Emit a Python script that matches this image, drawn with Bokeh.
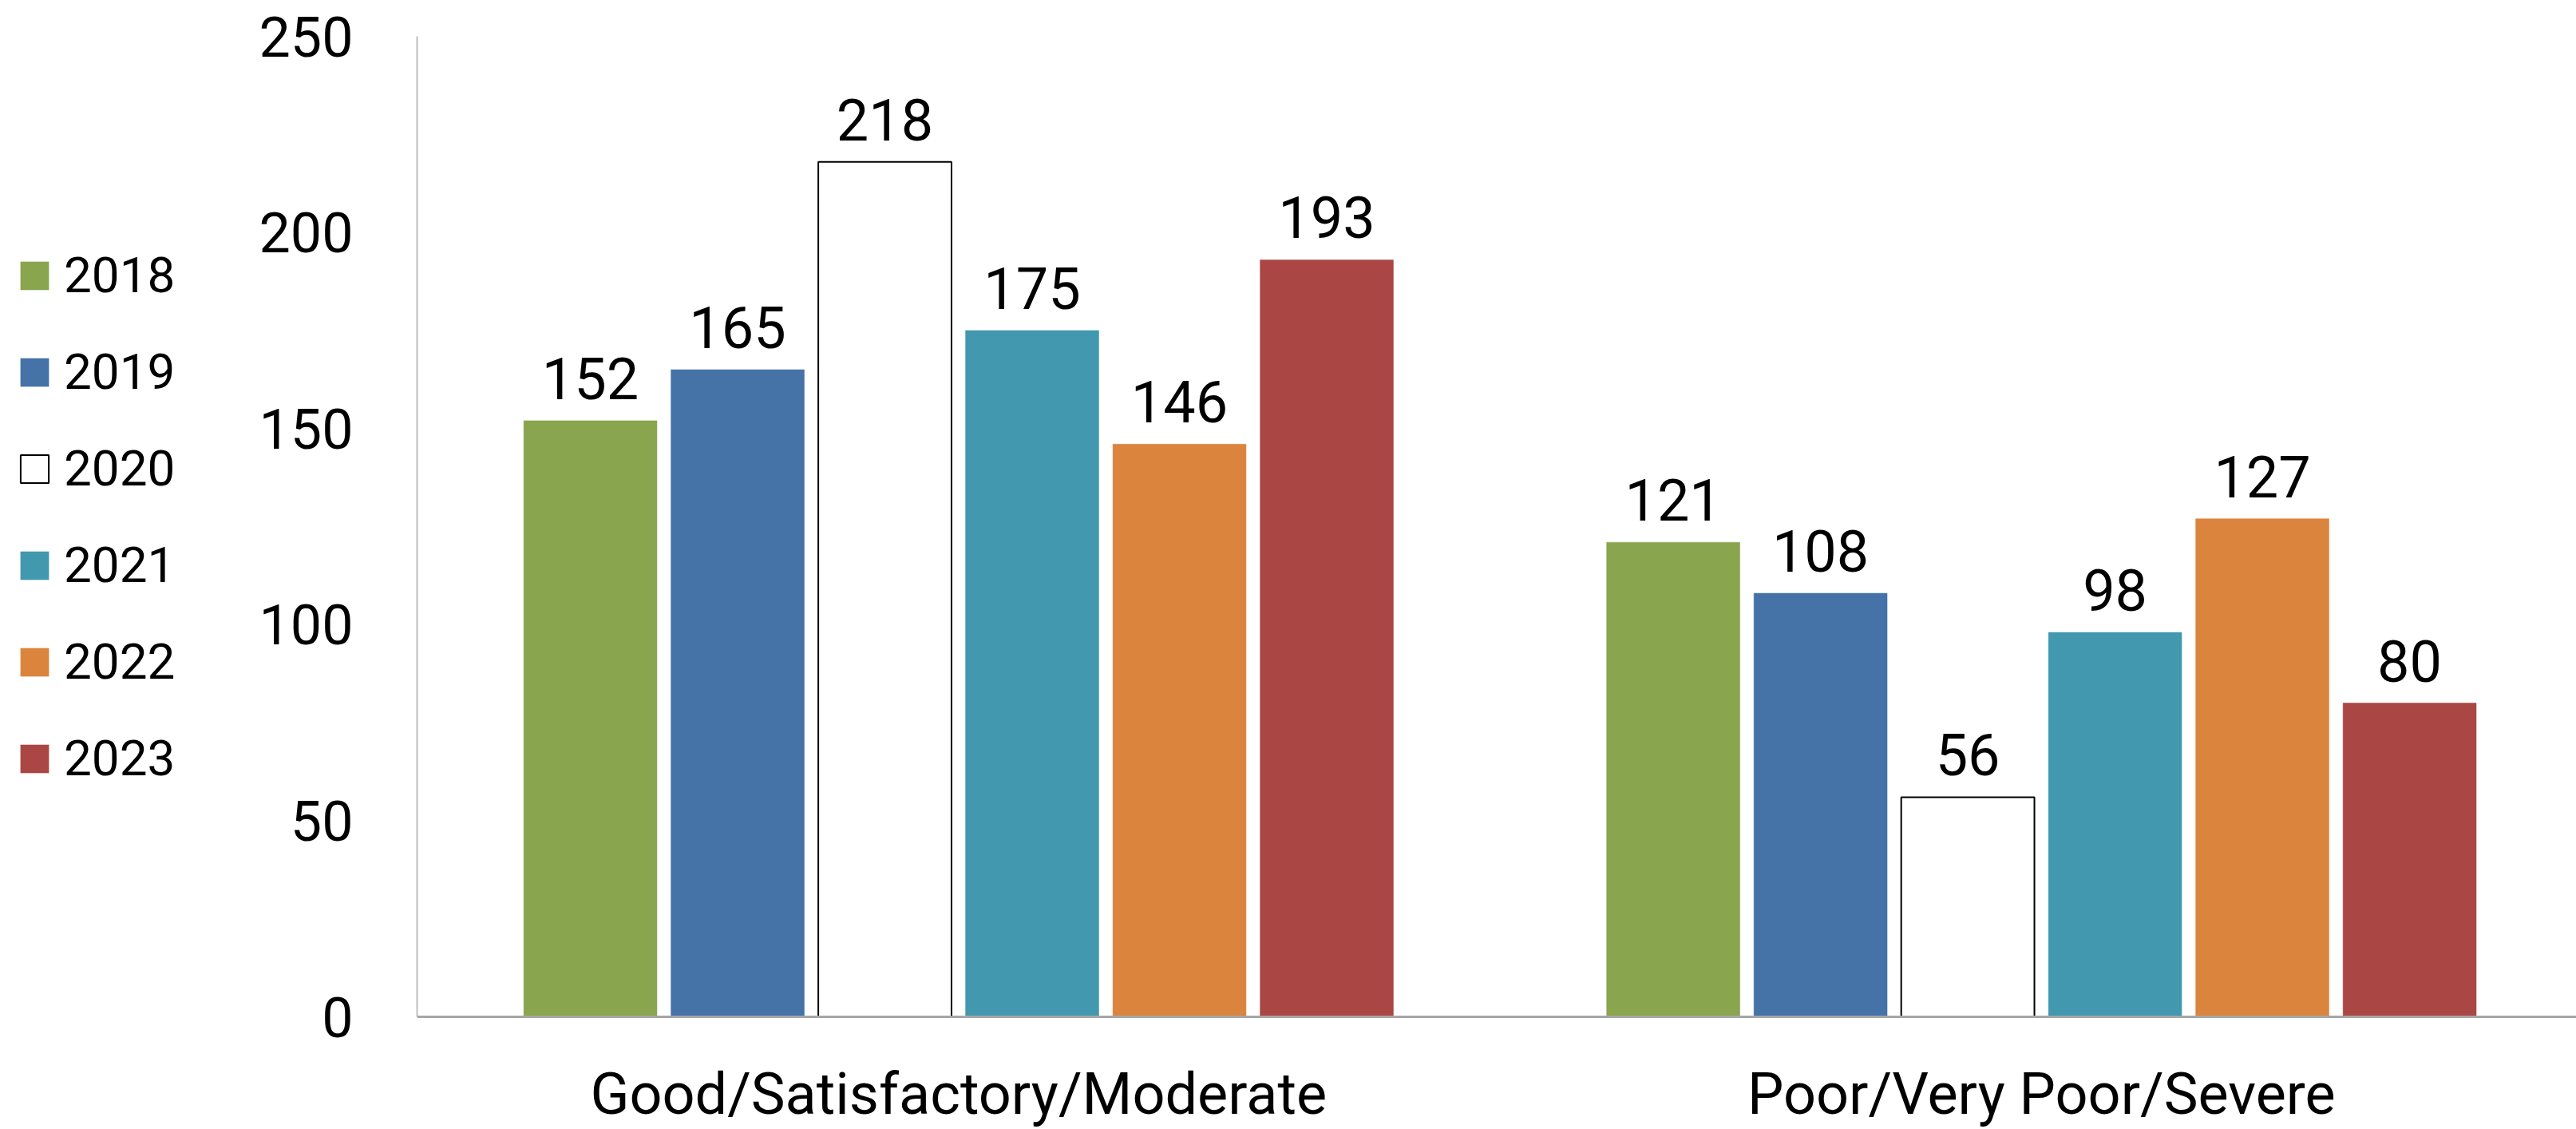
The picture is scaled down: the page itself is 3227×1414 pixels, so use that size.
from bokeh.plotting import figure
from bokeh.layouts import row
from bokeh.models import Range1d, FixedTicker, Legend, LegendItem, LabelSet, ColumnDataSource, Span
from bokeh.core.properties import value
from bokeh.embed import file_html
from bokeh.resources import INLINE

categories = ["Good/Satisfactory/Moderate", "Poor/Very Poor/Severe"]
years = ["2018", "2019", "2020", "2021", "2022", "2023"]
values = {
    "2018": [152, 121],
    "2019": [165, 108],
    "2020": [218, 56],
    "2021": [175, 98],
    "2022": [146, 127],
    "2023": [193, 80],
}
fill_colors = ["#89A54E", "#4572A7", "#FFFFFF", "#4198AF", "#DB843D", "#AA4643"]
line_colors = [None, None, "#000000", None, None, None]
y_ticks = [0, 50, 100, 150, 200, 250]

FONT = "Roboto"
step = 0.136
bar_w = 0.123

H = 1414
LEG_W = 321
MAIN_W = 3227 - LEG_W
TOP, BASE = 45, 1273          # pixel rows of y=250 and y=0 inside the figure
y_max = max(y_ticks)
unit = y_max / (BASE - TOP)
y_min = -(H - BASE) * unit

p = figure(width=MAIN_W, height=H, output_backend="svg", toolbar_location=None,
           x_range=Range1d(-0.5, 1.494), y_range=Range1d(y_min, y_max),
           x_axis_location=None,
           min_border_left=200, min_border_right=0, min_border_top=TOP, min_border_bottom=0)
p.outline_line_color = None
p.xgrid.grid_line_color = None
p.ygrid.grid_line_color = None
p.background_fill_color = "white"

# legend-only panel on the left; its ranges put the twin bars behind the opaque legend box
lp = figure(width=LEG_W, height=H, output_backend="svg", toolbar_location=None,
            x_range=Range1d(-1.5, 6), y_range=Range1d(-204, 357),
            x_axis_location=None, y_axis_location=None,
            min_border_left=0, min_border_right=0, min_border_top=0, min_border_bottom=0)
lp.outline_line_color = None
lp.xgrid.grid_line_color = None
lp.ygrid.grid_line_color = None

items = []
for i, yr in enumerate(years):
    xs = [c + (i - 2.5) * step for c in range(len(categories))]
    src = ColumnDataSource(dict(x=xs, top=values[yr], lab=[str(v) for v in values[yr]]))
    lc = line_colors[i] if line_colors[i] else fill_colors[i]
    lw = 2 if line_colors[i] else 0.5
    p.vbar(x="x", top="top", width=bar_w, bottom=0, source=src,
           fill_color=fill_colors[i], line_color=lc, line_width=lw)
    p.add_layout(LabelSet(x="x", y="top", text="lab", source=src, y_offset=27,
                          text_align="center", text_baseline="alphabetic",
                          text_font=value(FONT), text_font_size=value("72px"),
                          text_color="#000000"))
    twin = lp.vbar(x="x", top="top", width=bar_w, bottom=0, source=src,
                   fill_color=fill_colors[i], line_color=lc, line_width=lw)
    items.append(LegendItem(label=yr, renderers=[twin]))

# baseline (category axis line)
p.add_layout(Span(location=0, dimension="width", line_color="#A6A6A6", line_width=3))

# category labels
cat_src = ColumnDataSource(dict(x=list(range(len(categories))), y=[0] * len(categories), t=categories))
p.add_layout(LabelSet(x="x", y="y", text="t", source=cat_src, y_offset=-121,
                      text_align="center", text_baseline="alphabetic",
                      text_font=value(FONT), text_font_size=value("72px"), text_color="#000000"))

# y axis
p.yaxis.ticker = FixedTicker(ticks=y_ticks)
p.yaxis.bounds = (0, y_max)
p.yaxis.axis_line_color = "#BFBFBF"
p.yaxis.axis_line_width = 2
p.yaxis.major_tick_line_color = None
p.yaxis.minor_tick_line_color = None
p.yaxis.major_label_standoff = 74
p.yaxis.major_label_text_font = FONT
p.yaxis.major_label_text_font_size = "70px"
p.yaxis.major_label_text_color = "#000000"

legend = Legend(items=items, location=(21, 404),
                glyph_width=44, glyph_height=44,
                label_text_font=FONT, label_text_font_size="62px", label_text_color="#000000",
                label_standoff=15, label_height=121, spacing=0,
                padding=10, margin=0,
                border_line_color=None,
                background_fill_color="#FFFFFF", background_fill_alpha=1.0)
lp.add_layout(legend, "center")

layout = row(lp, p, spacing=0)
open("out.html", "w").write(file_html(layout, INLINE))
